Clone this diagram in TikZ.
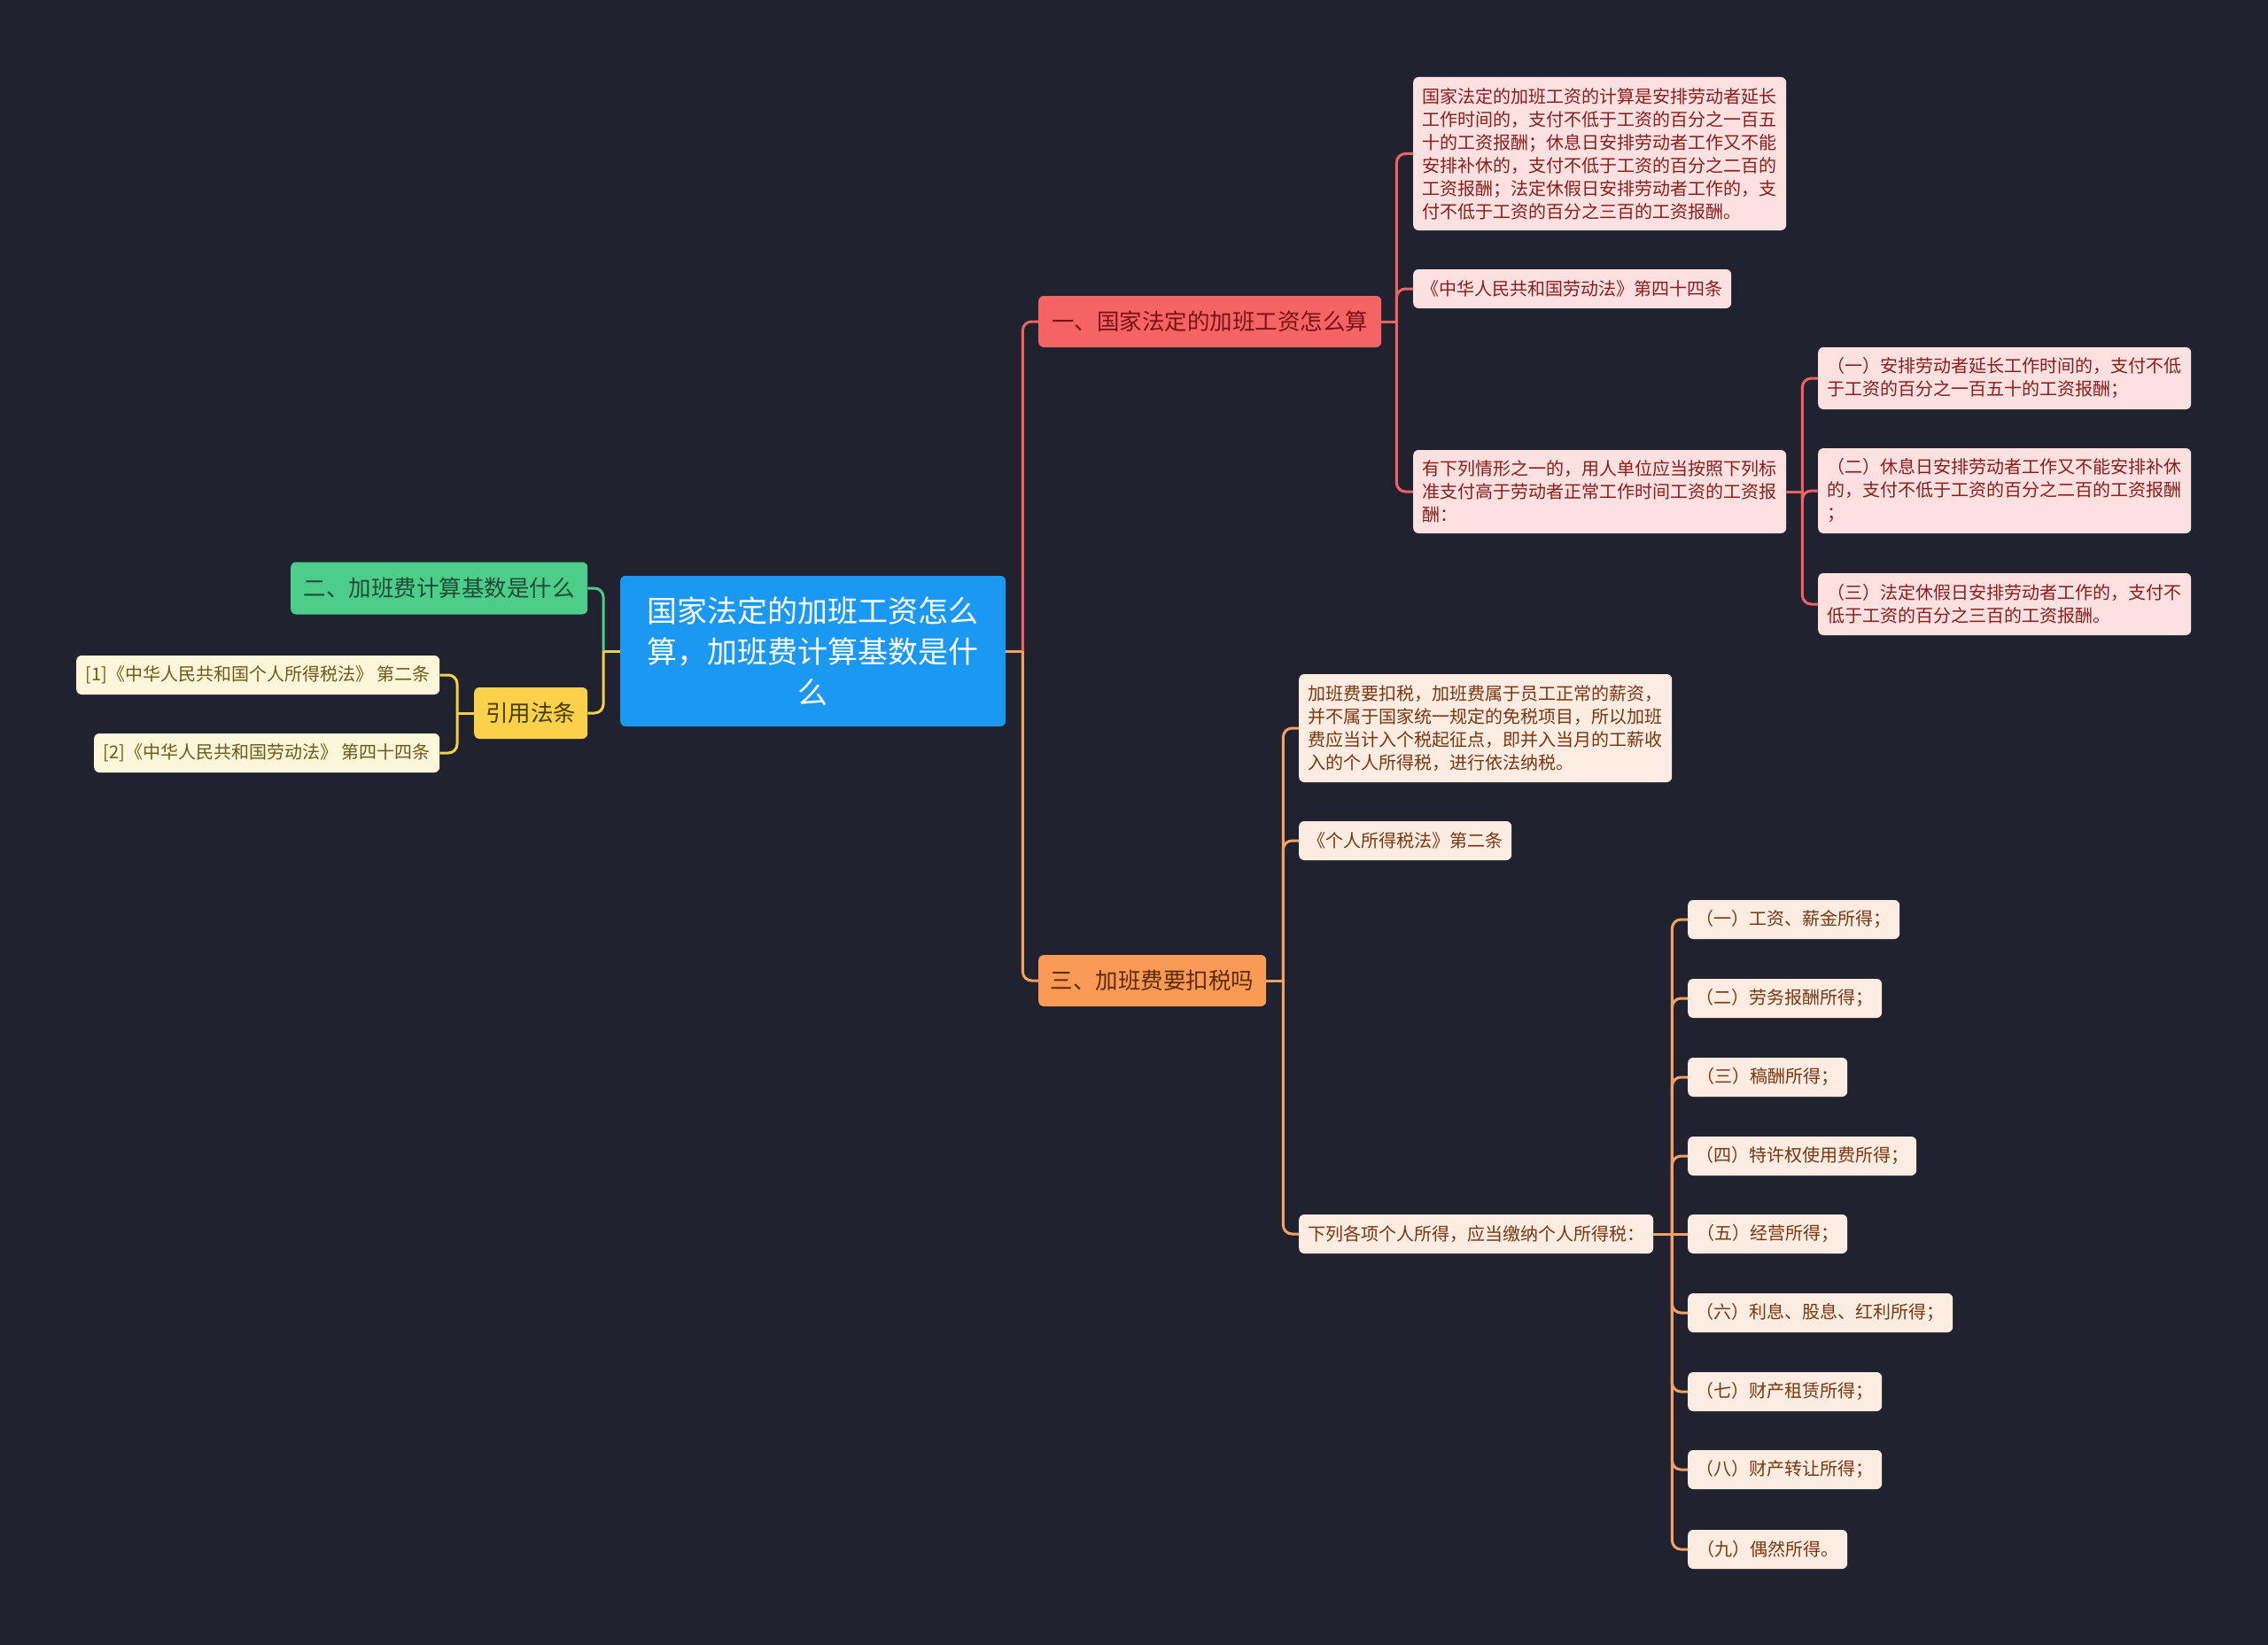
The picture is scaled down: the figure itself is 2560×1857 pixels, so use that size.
\documentclass[tikz,border=0pt]{standalone}
\usepackage{fontspec}
\newfontfamily\cjk{Noto Sans CJK SC}
\usetikzlibrary{calc}
\definecolor{bgc}{HTML}{20232F}
\definecolor{rootc}{HTML}{1B99F2}
\definecolor{redc}{HTML}{F56464}
\definecolor{redtx}{HTML}{7A1212}
\definecolor{greenc}{HTML}{4CCD8A}
\definecolor{greentx}{HTML}{1F4A33}
\definecolor{yelc}{HTML}{F9D14A}
\definecolor{yeltx}{HTML}{4A3A05}
\definecolor{orc}{HTML}{F99A55}
\definecolor{ortx}{HTML}{5C2A08}
\definecolor{pinkc}{HTML}{FDE1E1}
\definecolor{pinktx}{HTML}{8B1C1C}
\definecolor{creamc}{HTML}{FDF6DA}
\definecolor{creamtx}{HTML}{6E5A14}
\definecolor{peachc}{HTML}{FDECE1}
\definecolor{peachtx}{HTML}{7A3610}
\definecolor{redln}{HTML}{F06262}
\definecolor{greenln}{HTML}{4CCD8A}
\definecolor{yelln}{HTML}{F5CF45}
\definecolor{orln}{HTML}{F6A064}
\begin{document}
\begin{tikzpicture}[x=1pt,y=-1pt,
  box/.style={rounded corners=6pt, inner xsep=0pt, inner ysep=0pt, anchor=west, align=center},
  leaf/.style={box, font=\cjk\fontsize{20}{26}\selectfont, minimum height=44pt},
  mleaf/.style={leaf, inner xsep=10pt, align=left},
  branch/.style={box, font=\cjk\fontsize{25.5}{32}\selectfont, minimum height=58pt},
  pinkleaf/.style={fill=pinkc, text=pinktx},
  creamleaf/.style={fill=creamc, text=creamtx},
  peachleaf/.style={fill=peachc, text=peachtx},
  conn/.style={line width=3pt, rounded corners=10pt}
]
\fill[bgc] (0,0) rectangle (2560,1857);
\useasboundingbox (0,0) rectangle (2560,1857);

% root
\node[box, fill=rootc, text=white, font=\cjk\fontsize{34}{46}\selectfont,
  minimum width=435pt, minimum height=170pt] (root) at (700,735)
  {国家法定的加班工资怎么\\算，加班费计算基数是什\\么};

% branches
\node[branch, fill=redc, text=redtx, minimum width=387pt] (b1) at (1172,363) {一、国家法定的加班工资怎么算};
\node[branch, fill=greenc, text=greentx, minimum width=335pt, minimum height=59pt] (b2) at (328,664) {二、加班费计算基数是什么};
\node[branch, fill=yelc, text=yeltx, minimum width=128pt] (cite) at (535,805) {引用法条};
\node[branch, fill=orc, text=ortx, minimum width=257pt] (b3) at (1172,1107) {三、加班费要扣税吗};

% citations
\node[leaf, creamleaf, minimum width=410pt] (c1) at (86,762) {[1]《中华人民共和国个人所得税法》 第二条};
\node[leaf, creamleaf, minimum width=390pt] (c2) at (106,850) {[2]《中华人民共和国劳动法》 第四十四条};

% branch 1 children
\node[mleaf, pinkleaf, text width=401pt, minimum height=173pt] (a1) at (1595,173.5)
  {国家法定的加班工资的计算是安排劳动者延长\\工作时间的，支付不低于工资的百分之一百五\\十的工资报酬；休息日安排劳动者工作又不能\\安排补休的，支付不低于工资的百分之二百的\\工资报酬；法定休假日安排劳动者工作的，支\\付不低于工资的百分之三百的工资报酬。};
\node[leaf, pinkleaf, minimum width=359pt] (a2) at (1595,326) {《中华人民共和国劳动法》第四十四条};
\node[mleaf, pinkleaf, text width=401pt, minimum height=94pt] (a3) at (1595,555)
  {有下列情形之一的，用人单位应当按照下列标\\准支付高于劳动者正常工作时间工资的工资报\\酬：};
\node[mleaf, pinkleaf, text width=401pt, minimum height=70pt] (s1) at (2052,427)
  {（一）安排劳动者延长工作时间的，支付不低\\于工资的百分之一百五十的工资报酬；};
\node[mleaf, pinkleaf, text width=401pt, minimum height=96pt] (s2) at (2052,554)
  {（二）休息日安排劳动者工作又不能安排补休\\的，支付不低于工资的百分之二百的工资报酬\\；};
\node[mleaf, pinkleaf, text width=401pt, minimum height=70pt] (s3) at (2052,682)
  {（三）法定休假日安排劳动者工作的，支付不\\低于工资的百分之三百的工资报酬。};

% branch 3 children
\node[mleaf, peachleaf, text width=401pt, minimum height=122pt] (d1) at (1466,822)
  {加班费要扣税，加班费属于员工正常的薪资，\\并不属于国家统一规定的免税项目，所以加班\\费应当计入个税起征点，即并入当月的工薪收\\入的个人所得税，进行依法纳税。};
\node[leaf, peachleaf, minimum width=240pt] (d2) at (1466,949) {《个人所得税法》第二条};
\node[leaf, peachleaf, minimum width=400pt] (d3) at (1466,1393) {下列各项个人所得，应当缴纳个人所得税：};

\node[leaf, peachleaf, minimum width=239pt] (i1) at (1905,1038) {（一）工资、薪金所得；};
\node[leaf, peachleaf, minimum width=219pt] (i2) at (1905,1127) {（二）劳务报酬所得；};
\node[leaf, peachleaf, minimum width=180pt] (i3) at (1905,1216) {（三）稿酬所得；};
\node[leaf, peachleaf, minimum width=258pt] (i4) at (1905,1305) {（四）特许权使用费所得；};
\node[leaf, peachleaf, minimum width=180pt] (i5) at (1905,1393) {（五）经营所得；};
\node[leaf, peachleaf, minimum width=299pt] (i6) at (1905,1482) {（六）利息、股息、红利所得；};
\node[leaf, peachleaf, minimum width=219pt] (i7) at (1905,1571) {（七）财产租赁所得；};
\node[leaf, peachleaf, minimum width=219pt] (i8) at (1905,1659) {（八）财产转让所得；};
\node[leaf, peachleaf, minimum width=180pt] (i9) at (1905,1749) {（九）偶然所得。};

% connectors: root right
\coordinate (tR) at ($(root.east)+(19,0)$);
\draw[conn, orln] (root.east) -- (tR);
\draw[conn, redln] (tR) |- (b1.west);
\draw[conn, orln] (tR) |- (b3.west);
% root left
\coordinate (tL) at ($(root.west)+(-19,0)$);
\draw[conn, yelln] (root.west) -- (tL);
\draw[conn, greenln] (tL) |- (b2.east);
\draw[conn, yelln] (tL) |- (cite.east);
% citations
\coordinate (tC) at ($(cite.west)+(-19,0)$);
\draw[conn, yelln] (cite.west) -- (tC);
\draw[conn, yelln] (tC) |- (c1.east);
\draw[conn, yelln] (tC) |- (c2.east);
% branch 1
\coordinate (t1) at ($(b1.east)+(17,0)$);
\draw[conn, redln] (b1.east) -- (t1);
\foreach \c in {a1,a2,a3} \draw[conn, redln] (t1) |- (\c.west);
\coordinate (t2) at ($(a3.east)+(18,0)$);
\draw[conn, redln] (a3.east) -- (t2);
\foreach \c in {s1,s2,s3} \draw[conn, redln] (t2) |- (\c.west);
% branch 3
\coordinate (t3) at ($(b3.east)+(19,0)$);
\draw[conn, orln] (b3.east) -- (t3);
\foreach \c in {d1,d2,d3} \draw[conn, orln] (t3) |- (\c.west);
\coordinate (t4) at ($(d3.east)+(21,0)$);
\draw[conn, orln] (d3.east) -- (i5.west);
\foreach \c in {i1,i2,i3,i4,i6,i7,i8,i9} \draw[conn, orln] (t4) |- (\c.west);
\end{tikzpicture}
\end{document}
